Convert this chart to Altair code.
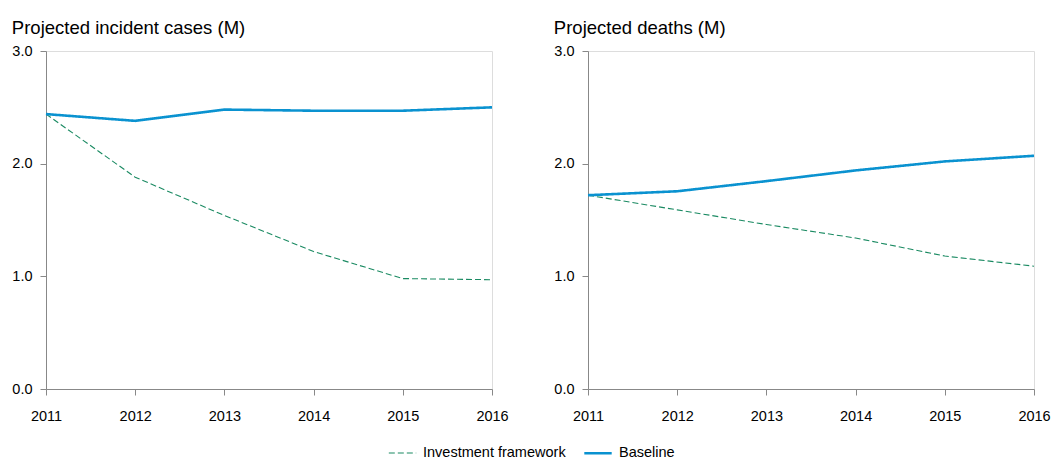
import altair as alt
import pandas as pd

years = [2011, 2012, 2013, 2014, 2015, 2016]
series_names = ["Investment framework", "Baseline"]

cases_investment = [2.44, 1.88, 1.54, 1.22, 0.98, 0.97]
cases_baseline = [2.44, 2.38, 2.48, 2.47, 2.47, 2.50]
deaths_investment = [1.72, 1.59, 1.46, 1.34, 1.18, 1.09]
deaths_baseline = [1.72, 1.755, 1.845, 1.94, 2.02, 2.07]

def frame(inv, base):
    rows = []
    for y, v in zip(years, inv):
        rows.append({"year": y, "value": v, "series": series_names[0]})
    for y, v in zip(years, base):
        rows.append({"year": y, "value": v, "series": series_names[1]})
    return pd.DataFrame(rows)

df_cases = frame(cases_investment, cases_baseline)
df_deaths = frame(deaths_investment, deaths_baseline)

color_scale = alt.Scale(domain=series_names, range=["#1a8a62", "#0a92d0"])
dash_scale = alt.Scale(domain=series_names, range=[[6, 3], [1, 0]])
width_scale = alt.Scale(domain=series_names, range=[1.1, 2.6])

FONT = "Liberation Sans"

def panel(df, title, show_legend):
    legend = alt.Legend(
        title=None, orient="none", direction="horizontal",
        legendX=342, legendY=387, symbolType="stroke", symbolSize=750,
        symbolStrokeWidth=1.6, labelFontSize=14.5, labelFont=FONT,
        labelColor="#000000", columnPadding=13, labelOffset=6, labelLimit=300,
    ) if show_legend else None
    return alt.Chart(df, title=alt.Title(title, anchor="start", fontSize=18.5,
                                         font=FONT, fontWeight="normal",
                                         color="#000000", offset=6)).mark_line().encode(
        x=alt.X("year:Q", scale=alt.Scale(domain=[2011, 2016], nice=False, zero=False),
                axis=alt.Axis(title=None, values=years, format="d", labelFontSize=14.5,
                              labelFont=FONT, labelColor="#000000",
                              grid=False, domainColor="#888888", tickColor="#888888",
                              tickSize=6, labelPadding=14, labelFlush=False)),
        y=alt.Y("value:Q", scale=alt.Scale(domain=[0, 3], nice=False),
                axis=alt.Axis(title=None, values=[0, 1, 2, 3], format=".1f",
                              labelFontSize=14.5, labelFont=FONT,
                              labelColor="#000000", grid=False, domainColor="#888888",
                              tickColor="#888888", tickSize=6, labelPadding=8)),
        color=alt.Color("series:N", scale=color_scale, sort=series_names, legend=legend),
        strokeDash=alt.StrokeDash("series:N", scale=dash_scale, sort=series_names, legend=legend),
        strokeWidth=alt.StrokeWidth("series:N", scale=width_scale, legend=None),
        order=alt.Order("year:Q"),
    ).properties(width=446, height=338)

left = panel(df_cases, "Projected incident cases (M)", True)
right = panel(df_deaths, "Projected deaths (M)", True)

chart = alt.hconcat(left, right, spacing=44).resolve_scale(
    color="shared", strokeDash="shared"
).configure_view(stroke=None).configure(padding={"left": 3, "top": 10, "right": 0, "bottom": 0})

chart.save("out.html", embed_options={"renderer": "svg", "actions": False})
